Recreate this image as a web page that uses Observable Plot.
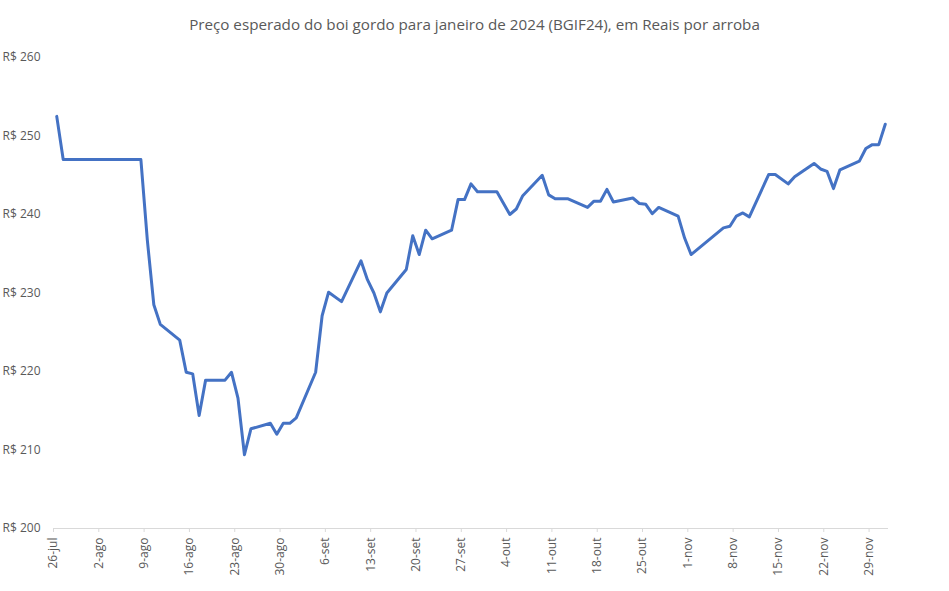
<!DOCTYPE html>
<html>
<head>
<meta charset="utf-8">
<script src="https://cdn.jsdelivr.net/npm/d3@7"></script>
<script src="https://cdn.jsdelivr.net/npm/@observablehq/plot@0.6"></script>
<style>
  body { margin: 0; background: #fff; }
  #title { height: 40px; box-sizing: border-box; padding-top: 14px; line-height: 20px; text-align: center;
           font-family: "Open Sans", sans-serif; font-size: 15.2px; color: #595959; width: 949px; }
</style>
</head>
<body>
<div id="title">Preço esperado do boi gordo para janeiro de 2024 (BGIF24), em Reais por arroba</div>
<div id="chart"></div>
<script>
const dates = ["2023-07-26","2023-07-27","2023-08-08","2023-08-09","2023-08-10","2023-08-11","2023-08-14","2023-08-15","2023-08-16","2023-08-17","2023-08-18","2023-08-21","2023-08-22","2023-08-23","2023-08-24","2023-08-25","2023-08-28","2023-08-29","2023-08-30","2023-08-31","2023-09-01","2023-09-04","2023-09-05","2023-09-06","2023-09-08","2023-09-11","2023-09-12","2023-09-13","2023-09-14","2023-09-15","2023-09-18","2023-09-19","2023-09-20","2023-09-21","2023-09-22","2023-09-25","2023-09-26","2023-09-27","2023-09-28","2023-09-29","2023-10-02","2023-10-04","2023-10-05","2023-10-06","2023-10-09","2023-10-10","2023-10-11","2023-10-13","2023-10-16","2023-10-17","2023-10-18","2023-10-19","2023-10-20","2023-10-23","2023-10-24","2023-10-25","2023-10-26","2023-10-27","2023-10-30","2023-10-31","2023-11-01","2023-11-06","2023-11-07","2023-11-08","2023-11-09","2023-11-10","2023-11-13","2023-11-14","2023-11-16","2023-11-17","2023-11-20","2023-11-21","2023-11-22","2023-11-23","2023-11-24","2023-11-27","2023-11-28","2023-11-29","2023-11-30","2023-12-01"];
const prices = [252.5,247.0,247.0,236.7,228.5,226.0,224.0,219.9,219.7,214.4,218.9,218.9,219.9,216.6,209.4,212.7,213.4,212.0,213.4,213.4,214.1,219.9,227.1,230.1,228.9,234.1,231.7,230.0,227.6,230.0,233.0,237.3,234.9,238.0,236.9,238.0,241.9,241.9,243.9,242.9,242.9,240.0,240.7,242.4,245.0,242.5,242.0,242.0,240.9,241.7,241.7,243.2,241.6,242.1,241.4,241.3,240.1,240.9,239.8,237.0,234.9,238.3,238.5,239.8,240.2,239.7,245.1,245.1,243.9,244.8,246.5,245.8,245.5,243.3,245.7,246.8,248.4,248.9,248.9,251.5];
const tickDates = ["2023-07-26","2023-08-02","2023-08-09","2023-08-16","2023-08-23","2023-08-30","2023-09-06","2023-09-13","2023-09-20","2023-09-27","2023-10-04","2023-10-11","2023-10-18","2023-10-25","2023-11-01","2023-11-08","2023-11-15","2023-11-22","2023-11-29"];
const tickLabels = ["26-jul","2-ago","9-ago","16-ago","23-ago","30-ago","6-set","13-set","20-set","27-set","4-out","11-out","18-out","25-out","1-nov","8-nov","15-nov","22-nov","29-nov"];
const yTicks = [200,210,220,230,240,250,260];
const xDomain = ["2023-07-26","2023-12-02"];

const data = dates.map((d, i) => ({date: new Date(d + "T12:00:00Z"), price: prices[i]}));
const tickDateObjs = tickDates.map(d => new Date(d + "T00:00:00Z"));
const labelByTime = new Map(tickDateObjs.map((d, i) => [d.getTime(), tickLabels[i]]));

const chart = Plot.plot({
  width: 949,
  height: 551,
  marginTop: 17,
  marginBottom: 63,
  marginLeft: 53,
  marginRight: 61,
  style: {fontFamily: "'Open Sans', sans-serif", fontSize: "12px", color: "#595959", background: "white"},
  x: {type: "utc", domain: xDomain.map(d => new Date(d + "T00:00:00Z")), label: null},
  y: {domain: [200, 260], label: null},
  marks: [
    Plot.ruleY([200], {stroke: "#d9d9d9", strokeWidth: 1}),
    Plot.axisX(tickDateObjs, {tickSize: 4, tickPadding: 5, tickRotate: -90, stroke: "#d9d9d9", fill: "#595959",
      tickFormat: d => labelByTime.get(d.getTime()), label: null}),
    Plot.axisY(yTicks, {tickSize: 0, tickPadding: 13, fill: "#595959", tickFormat: d => "R$ " + d, label: null}),
    Plot.line(data, {x: "date", y: "price", stroke: "#4472C4", strokeWidth: 3, strokeLinejoin: "round", strokeLinecap: "round"})
  ]
});
document.getElementById("chart").appendChild(chart);
</script>
</body>
</html>
